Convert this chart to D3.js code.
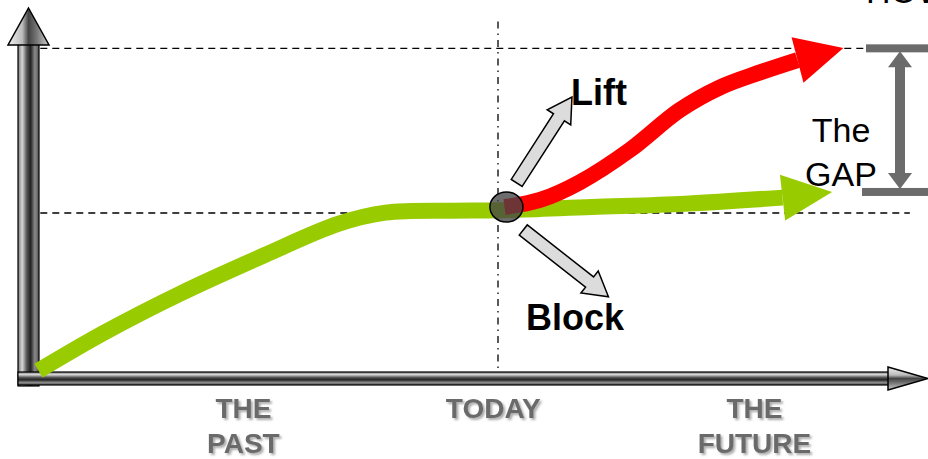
<!DOCTYPE html>
<html>
<head>
<meta charset="utf-8">
<script src="https://cdn.jsdelivr.net/npm/d3@7"></script>
<style>
body { margin: 0; background: #fff; }
svg { display: block; }
</style>
</head>
<body>
<svg width="928" height="459"></svg>
<script>
var svg = d3.select("svg"),
  width = +svg.attr("width"),
  height = +svg.attr("height");

// time runs 0..100 (today = 50), level runs 0..100 (today's level = 50)
var greenLine = [[0.9, 2.5], [8, 14], [16, 25.5], [25, 37], [33, 46.5], [38, 49.8], [45, 50.4], [50, 50.5], [60, 51.5], [70, 52.5], [80.4, 54.3]];
var greenTip = [85.7, 56];
var redLine = [[50.7, 51.5], [54.5, 53.6], [58.8, 59], [64.1, 68.6], [69.4, 80.5], [73.7, 87.3], [78, 91.8], [82, 95.5]];
var redTip = [86.9, 99.1];

var todayTime = 50, todayLevel = 50, gapTop = 99, gapBottom = 56;
var timeLabels = [["THE", "PAST"], ["TODAY"], ["THE", "FUTURE"]];
var labelTimes = [22.8, 49.5, 77.4];

var liftArrow = [[52, 58.7], [57.9, 84.4]];
var blockArrow = [[52.7, 44.6], [61.8, 24.6]];

var x = d3.scaleLinear().domain([0, 100]).range([30, 966]);
var y = d3.scaleLinear().domain([0, 100]).range([379, 45]);

var defs = svg.append("defs");

function metal(id, x2, y2, stops) {
  var g = defs.append("linearGradient").attr("id", id)
    .attr("x1", 0).attr("y1", 0).attr("x2", x2).attr("y2", y2);
  g.selectAll("stop").data(stops).enter().append("stop")
    .attr("offset", d => d[0]).attr("stop-color", d => d[1]);
}
var shaftStops = [[0, "#777"], [0.2, "#d8d8d8"], [0.42, "#555"], [0.6, "#222"], [0.8, "#8a8a8a"], [1, "#555"]];
var headStops = [[0, "#f2f2f2"], [0.35, "#bbb"], [0.5, "#444"], [0.7, "#777"], [1, "#d0d0d0"]];
metal("shaftV", 1, 0, shaftStops);
metal("shaftH", 0, 1, shaftStops);
metal("headV", 1, 0, headStops);
metal("headH", 0, 1, headStops);

var shadow = defs.append("filter").attr("id", "shadow")
  .attr("x", "-10%").attr("y", "-20%").attr("width", "130%").attr("height", "150%");
shadow.append("feDropShadow").attr("dx", 2).attr("dy", 2).attr("stdDeviation", 1.2)
  .attr("flood-color", "#888").attr("flood-opacity", 0.7);

// guide lines
svg.append("line")
  .attr("x1", x(1.1)).attr("x2", x(89.3)).attr("y1", y(gapTop)).attr("y2", y(gapTop))
  .attr("stroke", "#000").attr("stroke-width", 1.4).attr("stroke-dasharray", "7,5");
svg.append("line")
  .attr("x1", x(1.1)).attr("x2", x(94)).attr("y1", y(todayLevel) + 1).attr("y2", y(todayLevel) + 1)
  .attr("stroke", "#000").attr("stroke-width", 1.4).attr("stroke-dasharray", "7,5");
svg.append("line")
  .attr("x1", x(todayTime)).attr("x2", x(todayTime)).attr("y1", y(107)).attr("y2", y(0))
  .attr("stroke", "#000").attr("stroke-width", 1.3).attr("stroke-dasharray", "7,5,1.5,5");

// axes as metal arrows
var ax = svg.append("g");
ax.append("rect").attr("x", 18).attr("y", 44).attr("width", 21).attr("height", 342)
  .attr("fill", "url(#shaftV)").attr("stroke", "#000").attr("stroke-width", 1.2);
ax.append("path").attr("d", "M28.5,8 L49,45 L8,45 Z")
  .attr("fill", "url(#headV)").attr("stroke", "#000").attr("stroke-width", 1.5);
ax.append("rect").attr("x", 18).attr("y", 372).attr("width", 872).attr("height", 13)
  .attr("fill", "url(#shaftH)").attr("stroke", "#000").attr("stroke-width", 1.2);
ax.append("path").attr("d", "M888,367 L928,378.5 L888,390 Z")
  .attr("fill", "url(#headH)").attr("stroke", "#000").attr("stroke-width", 1.5);

var line = d3.line().x(d => x(d[0])).y(d => y(d[1])).curve(d3.curveCatmullRom);

function head(g, pts, tip, half, color) {
  var b = pts[pts.length - 1], p = [x(b[0]), y(b[1])], t = [x(tip[0]), y(tip[1])];
  var dx = t[0] - p[0], dy = t[1] - p[1], len = Math.hypot(dx, dy);
  var nx = -dy / len * half, ny = dx / len * half;
  g.append("path")
    .attr("d", "M" + (p[0] + nx) + "," + (p[1] + ny) + "L" + t[0] + "," + t[1] + "L" + (p[0] - nx) + "," + (p[1] - ny) + "Z")
    .attr("fill", color);
}

var green = svg.append("g");
green.append("path").datum(greenLine).attr("d", line)
  .attr("fill", "none").attr("stroke", "#99cc00").attr("stroke-width", 16);
head(green, greenLine, greenTip, 23, "#99cc00");

var red = svg.append("g");
red.append("path").datum(redLine).attr("d", line)
  .attr("fill", "none").attr("stroke", "#ff0000").attr("stroke-width", 16);
head(red, redLine, redTip, 23.5, "#ff0000");

// the "today" point
svg.append("ellipse")
  .attr("cx", x(50.9)).attr("cy", y(51.5)).attr("rx", 16.5).attr("ry", 15)
  .attr("fill", "#444").attr("fill-opacity", 0.78).attr("stroke", "#000").attr("stroke-width", 1.5);

// lift / block block arrows
function blockArr(pts) {
  var a = [x(pts[0][0]), y(pts[0][1])], b = [x(pts[1][0]), y(pts[1][1])];
  var dx = b[0] - a[0], dy = b[1] - a[1], len = Math.hypot(dx, dy);
  var ux = dx / len, uy = dy / len, nx = -uy, ny = ux;
  var sw = 6.5, hw = 14, hl = 24;
  var c = [b[0] - ux * hl, b[1] - uy * hl];
  var p = [
    [a[0] + nx * sw, a[1] + ny * sw], [c[0] + nx * sw, c[1] + ny * sw], [c[0] + nx * hw, c[1] + ny * hw],
    b, [c[0] - nx * hw, c[1] - ny * hw], [c[0] - nx * sw, c[1] - ny * sw], [a[0] - nx * sw, a[1] - ny * sw]
  ];
  svg.append("path").attr("d", "M" + p.map(q => q.join(",")).join("L") + "Z")
    .attr("fill", "#dcdcdc").attr("stroke", "#000").attr("stroke-width", 1.5)
    .attr("stroke-linejoin", "miter");
}
blockArr(liftArrow);
blockArr(blockArrow);

svg.append("text").attr("x", 571).attr("y", 105).text("Lift")
  .attr("font-family", "Liberation Sans, Arial, sans-serif").attr("font-weight", "bold").attr("font-size", 36);
svg.append("text").attr("x", 526).attr("y", 330).text("Block")
  .attr("font-family", "Liberation Sans, Arial, sans-serif").attr("font-weight", "bold").attr("font-size", 36);

// the gap bracket
var gap = svg.append("g").attr("fill", "#6b6b6b");
var gx = 900;
gap.append("rect").attr("x", 866).attr("y", y(gapTop) - 4).attr("width", 62).attr("height", 8);
gap.append("rect").attr("x", 862).attr("y", y(gapBottom) - 4).attr("width", 66).attr("height", 8);
gap.append("rect").attr("x", gx - 5).attr("y", y(gapTop) + 14).attr("width", 10).attr("height", y(gapBottom) - y(gapTop) - 30);
gap.append("path").attr("d", "M" + gx + "," + (y(gapTop) + 3) + "L" + (gx + 12) + "," + (y(gapTop) + 19) + "L" + (gx - 12) + "," + (y(gapTop) + 19) + "Z");
gap.append("path").attr("d", "M" + gx + "," + (y(gapBottom) - 3) + "L" + (gx + 12) + "," + (y(gapBottom) - 19) + "L" + (gx - 12) + "," + (y(gapBottom) - 19) + "Z");

svg.append("g").attr("font-family", "Liberation Sans, Arial, sans-serif").attr("font-size", 34)
  .attr("text-anchor", "middle")
  .selectAll("text").data([["The", 142], ["GAP", 186]]).enter().append("text")
  .attr("x", 841).attr("y", d => d[1]).text(d => d[0]);

svg.append("text").attr("x", 866).attr("y", 3).text("HOW")
  .attr("font-family", "Liberation Sans, Arial, sans-serif").attr("font-size", 34);

// time labels under the axis
var lab = svg.append("g").attr("font-family", "Liberation Sans, Arial, sans-serif")
  .attr("font-weight", "bold").attr("font-size", 28).attr("fill", "#6b6b6b")
  .attr("text-anchor", "middle").attr("filter", "url(#shadow)");
lab.selectAll("text").data(timeLabels).enter().append("text")
  .attr("x", (d, i) => x(labelTimes[i]))
  .attr("y", 418)
  .each(function (d) {
    d3.select(this).selectAll("tspan").data(d).enter().append("tspan")
      .attr("x", d3.select(this).attr("x"))
      .attr("dy", (t, j) => j ? 35 : 0)
      .text(t => t);
  });
</script>
</body>
</html>
